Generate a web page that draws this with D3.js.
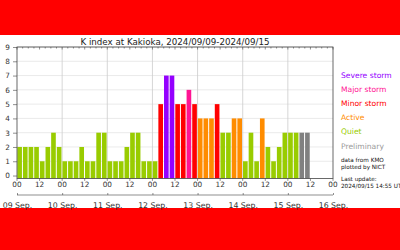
<!DOCTYPE html>
<html lang="en">
<head>
<meta charset="UTF-8">
<title>K index at Kakioka</title>
<style>
    body { margin: 0; background: #ff0000; font-family: "DejaVu Sans", sans-serif; }
    svg { display: block; }
</style>
</head>
<body>
<div id="chart"></div>
<script src="https://d3js.org/d3.v7.min.js"></script>
<script>
// K index, 3-hour intervals from 2024/09/09 00 UT
const kValues = [
    2, 2, 2, 2, 1, 2, 3, 2,   // 09 Sep
    1, 1, 1, 2, 1, 1, 3, 3,   // 10 Sep
    1, 1, 1, 2, 3, 3, 1, 1,   // 11 Sep
    1, 5, 7, 7, 5, 5, 6, 5,   // 12 Sep
    4, 4, 4, 5, 3, 3, 4, 4,   // 13 Sep
    1, 3, 1, 4, 2, 1, 2, 3,   // 14 Sep
    3, 3, 3, 3                // 15 Sep (last two preliminary)
];
const prelimCount = 2;
const dayLabels = ["09 Sep.", "10 Sep.", "11 Sep.", "12 Sep.", "13 Sep.", "14 Sep.", "15 Sep.", "16 Sep."];
const hourLabels = ["00", "12"];
const yTicks = [0, 1, 2, 3, 4, 5, 6, 7, 8, 9];
const legendLabels = ["Severe storm", "Major storm", "Minor storm", "Active", "Quiet", "Preliminary"];
const legendColors = ["#9400ff", "#ff1493", "#ff0000", "#ff8c00", "#99cc00", "#999999"];

const W = 400, H = 250;
const plotL = 17, plotR = 333, plotT = 47, plotB = 178.4;

const svg = d3.select("#chart").append("svg")
    .attr("width", W)
    .attr("height", H);

// white panel on the red background
svg.append("rect")
    .attr("x", 0).attr("y", 35)
    .attr("width", W).attr("height", 173)
    .attr("fill", "#fff");

const x = d3.scaleLinear().domain([0, 168]).range([plotL, plotR]);
const y = d3.scaleLinear().domain([-0.2, 9]).range([plotB, plotT]);

function barColor(v, i) {
    if (i >= kValues.length - prelimCount) return "#808080";
    if (v >= 7) return legendColors[0];
    if (v >= 6) return legendColors[1];
    if (v >= 5) return legendColors[2];
    if (v >= 4) return legendColors[3];
    return legendColors[4];
}

// grid
svg.append("g")
    .selectAll("line")
    .data(yTicks.slice(1))
    .join("line")
    .attr("x1", plotL).attr("x2", plotR)
    .attr("y1", d => y(d)).attr("y2", d => y(d))
    .attr("stroke", "#e4e4e4")
    .attr("stroke-width", 0.8);

svg.append("g")
    .selectAll("line")
    .data(d3.range(24, 168, 24))
    .join("line")
    .attr("x1", d => x(d)).attr("x2", d => x(d))
    .attr("y1", plotT).attr("y2", plotB)
    .attr("stroke", "#cccccc")
    .attr("stroke-width", 0.8);

// bars
const slot = x(3) - x(0);
svg.append("g")
    .selectAll("rect")
    .data(kValues)
    .join("rect")
    .attr("x", (d, i) => x(i * 3) + 0.3)
    .attr("width", slot - 1)
    .attr("y", d => y(d))
    .attr("height", d => y(-0.2) - y(d))
    .attr("fill", (d, i) => barColor(d, i));

// frame
svg.append("rect")
    .attr("x", plotL).attr("y", plotT)
    .attr("width", plotR - plotL).attr("height", plotB - plotT)
    .attr("fill", "none")
    .attr("stroke", "#444")
    .attr("stroke-width", 0.8);

// minor ticks every 3 h on top, 12 h on bottom
svg.append("g")
    .selectAll("line")
    .data(d3.range(0, 169, 3))
    .join("line")
    .attr("x1", d => x(d)).attr("x2", d => x(d))
    .attr("y1", plotT).attr("y2", d => plotT + (d % 12 === 0 ? 2.5 : 1.5))
    .attr("stroke", "#444").attr("stroke-width", 0.6);
svg.append("g")
    .selectAll("line")
    .data(d3.range(0, 169, 12))
    .join("line")
    .attr("x1", d => x(d)).attr("x2", d => x(d))
    .attr("y1", plotB).attr("y2", plotB + 2.5)
    .attr("stroke", "#444").attr("stroke-width", 0.6);

// y axis
const yAxis = svg.append("g")
    .attr("transform", `translate(${plotL},0)`)
    .call(d3.axisLeft(y).tickValues(yTicks).tickSize(4).tickPadding(3).tickFormat(d3.format("d")));
yAxis.select(".domain").remove();
yAxis.selectAll("line").attr("stroke", "#444").attr("stroke-width", 0.6);
yAxis.selectAll("text")
    .attr("font-family", "DejaVu Sans").attr("font-size", 7.3).attr("fill", "#333");

// hour labels
svg.append("g")
    .selectAll("text")
    .data(d3.range(0, 169, 12))
    .join("text")
    .attr("x", d => x(d))
    .attr("y", 187)
    .attr("text-anchor", "middle")
    .attr("font-size", 7.3)
    .attr("fill", "#333")
    .text(d => hourLabels[(d / 12) % 2]);

// date axis
const dateAxis = svg.append("g")
    .attr("transform", "translate(0,195)")
    .call(d3.axisBottom(x).tickValues(d3.range(0, 169, 24)).tickSize(-2).tickPadding(3)
        .tickFormat((d, i) => dayLabels[i]));
dateAxis.select(".domain").attr("stroke", "#444").attr("stroke-width", 0.6)
    .attr("d", `M${plotL},0H${plotR}`);
dateAxis.selectAll("line").attr("stroke", "#444").attr("stroke-width", 0.6);
dateAxis.selectAll("text")
    .attr("y", 7.3)
    .attr("font-family", "DejaVu Sans").attr("font-size", 7.8).attr("fill", "#333");

// title
svg.append("text")
    .attr("x", (plotL + plotR) / 2)
    .attr("y", 44.5)
    .attr("text-anchor", "middle")
    .attr("font-size", 8.7)
    .attr("fill", "#222")
    .text("K index at Kakioka, 2024/09/09-2024/09/15");

// legend
svg.append("g")
    .selectAll("text")
    .data(legendLabels)
    .join("text")
    .attr("x", 341)
    .attr("y", (d, i) => 77.5 + i * 14.2)
    .attr("font-size", 7.6)
    .attr("fill", (d, i) => legendColors[i])
    .text(d => d);

const notes = [
    { t: "data from KMO", y: 162 },
    { t: "plotted by NICT", y: 169 },
    { t: "Last update:", y: 181 },
    { t: "2024/09/15 14:55 UT", y: 188 }
];
svg.append("g")
    .selectAll("text")
    .data(notes)
    .join("text")
    .attr("x", 341)
    .attr("y", d => d.y)
    .attr("font-size", 5.7)
    .attr("fill", "#111")
    .text(d => d.t);
</script>
</body>
</html>
